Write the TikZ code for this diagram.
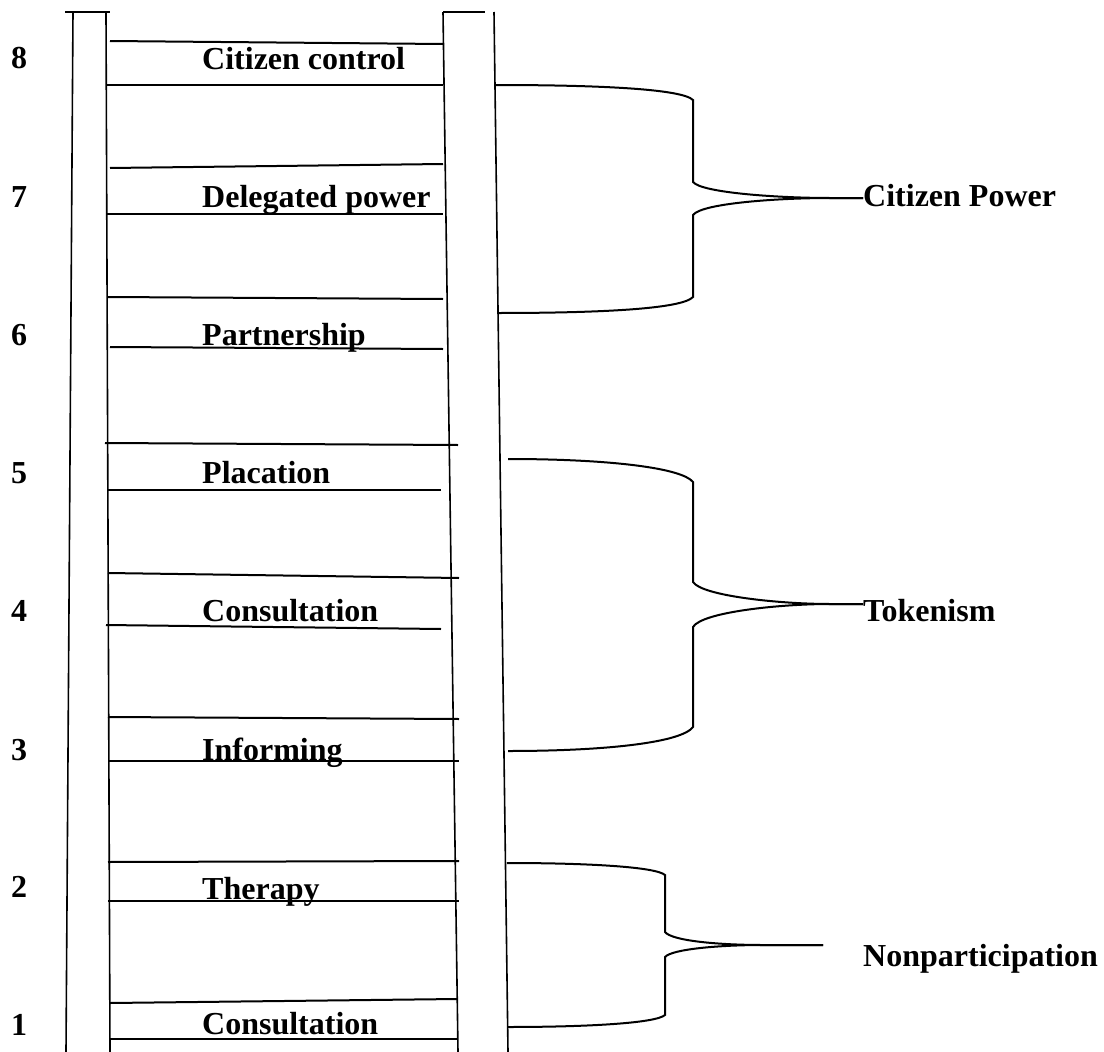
\documentclass[tikz,border=0pt]{standalone}
\usepackage{fontspec}
\setmainfont{Liberation Serif}
\begin{document}
\begin{tikzpicture}[x=1pt,y=-1pt,
  rail/.style={line width=1.6pt},
  rung/.style={line width=2pt},
  brace/.style={line width=2pt},
  lab/.style={font=\fontsize{32}{38}\selectfont\bfseries, inner sep=0pt, anchor=base west}]
\useasboundingbox[fill=white] (0,0) rectangle (1104,1052);
% rails
\coordinate (lcapA) at (65,12); \coordinate (lcapB) at (110,12);
\coordinate (loT) at (73,12); \coordinate (loB) at (66,1052);
\coordinate (liT) at (106,12); \coordinate (liB) at (110,1052);
\coordinate (rcapA) at (443,12); \coordinate (rcapB) at (485,12);
\coordinate (riT) at (443,12); \coordinate (riB) at (458,1052);
\coordinate (roT) at (494,12); \coordinate (roB) at (508,1052);
\draw[rail] (lcapA) -- (lcapB);
\draw[rail] (loT) -- (loB);
\draw[rail] (liT) -- (liB);
\draw[rail] (rcapA) -- (rcapB);
\draw[rail] (riT) -- (riB);
\draw[rail] (roT) -- (roB);
% rungs
\foreach \a/\b/\c/\d/\n in {
  110/41/443/44/r8a, 106/85/443/85/r8b,
  110/168/443/164/r7a, 106/214/443/214/r7b,
  108/297/443/299/r6a, 110/347/443/349/r6b,
  105/443/458/445/r5a, 108/490/441/490/r5b,
  108/573/459/578/r4a, 106/625/441/629/r4b,
  108/717/459/719/r3a, 108/761/459/761/r3b,
  108/862/459/861/r2a, 108/901/459/901/r2b,
  110/1003/457/999/r1a, 110/1039/457/1039/r1b}{
  \coordinate (\n L) at (\a,\b); \coordinate (\n R) at (\c,\d);
  \draw[rung] (\n L) -- (\n R);
}
% numbers
\foreach \y/\t in {68/8,207/7,345/6,483/5,621/4,760/3,897/2,1035/1}{
  \node[lab] (num\t) at (11,\y) {\t};
}
% rung labels
\node[lab] (l8) at (202,69) {Citizen control};
\node[lab] (l7) at (202,207) {Delegated power};
\node[lab] (l6) at (202,345) {Partnership};
\node[lab] (l5) at (202,483) {Placation};
\node[lab] (l4) at (202,621) {Consultation};
\node[lab] (l3) at (202,760) {Informing};
\node[lab] (l2) at (202,899) {Therapy};
\node[lab] (l1) at (202,1034) {Consultation};
% group labels
\node[lab] (gCP) at (863,206) {Citizen Power};
\node[lab] (gTK) at (863,621) {Tokenism};
\node[lab] (gNP) at (863,966) {Nonparticipation};
% braces
\coordinate (b1t) at (495,85); \coordinate (b1b) at (497,313); \coordinate (b1e) at (863,198);
\draw[brace] (b1t) .. controls (600,85) and (682,89) .. (693,100) -- (693,182)
  .. controls (702,193) and (780,198) .. (830,198) -- (b1e);
\draw[brace] (b1e) -- (830,198) .. controls (780,198) and (702,203) .. (693,215) -- (693,297)
  .. controls (682,309) and (600,313) .. (b1b);
\coordinate (b2t) at (508,459); \coordinate (b2b) at (508,751); \coordinate (b2e) at (863,604);
\draw[brace] (b2t) .. controls (610,459) and (682,468) .. (693,482) -- (693,582)
  .. controls (702,596) and (780,604) .. (830,604) -- (b2e);
\draw[brace] (b2e) -- (830,604) .. controls (780,604) and (702,612) .. (693,627) -- (693,727)
  .. controls (682,742) and (610,751) .. (b2b);
\coordinate (b3t) at (507,863); \coordinate (b3b) at (507,1027); \coordinate (b3e) at (823,945);
\draw[brace] (b3t) .. controls (590,863) and (656,867) .. (665,875) -- (665,932)
  .. controls (672,941) and (720,945) .. (763,945) -- (b3e);
\draw[brace] (b3e) -- (763,945) .. controls (720,945) and (672,949) .. (665,957) -- (665,1015)
  .. controls (656,1023) and (590,1027) .. (b3b);
\end{tikzpicture}
\end{document}
